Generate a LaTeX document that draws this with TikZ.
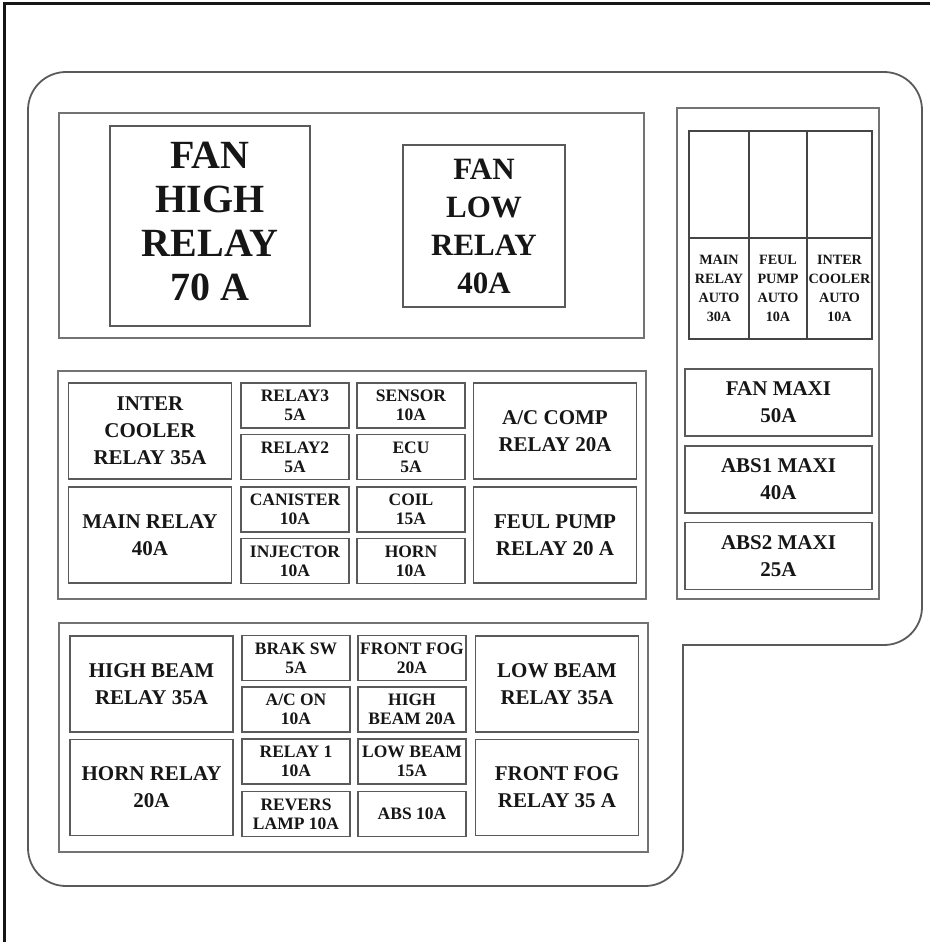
\documentclass[tikz,border=0pt]{standalone}
\usepackage{fontspec}
\setmainfont{Liberation Serif}
\definecolor{edge}{RGB}{90,90,90}
\definecolor{ink}{RGB}{22,22,22}

\begin{document}
\begin{tikzpicture}[
  x=1pt, y=-1pt,
  every node/.style={font=\bfseries, text=ink, inner sep=0pt, align=center},
  panel/.style={draw=edge!85, line width=1.4pt},
  housing/.style={draw=edge, line width=1.8pt},
  relaybox/.style={draw=edge, line width=1.4pt, minimum width=163pt,
               minimum height=96pt, font=\bfseries\fontsize{21}{27}\selectfont},
  fusebox/.style={draw=edge, line width=1.4pt, minimum width=108pt,
               minimum height=45pt, font=\bfseries\fontsize{17.5}{19}\selectfont},
  maxibox/.style={draw=edge, line width=1.4pt, minimum width=187pt,
               minimum height=67pt, font=\bfseries\fontsize{21}{27}\selectfont},
  autocell/.style={draw=ink!80, line width=1.3pt, minimum height=101pt,
               font=\bfseries\fontsize{14.2}{19}\selectfont},
  autotop/.style={draw=ink!80, line width=1.3pt, minimum height=107pt}
]
\useasboundingbox (0,0) rectangle (930,942);

% sheet edge
\draw[line width=3pt, ink] (4,942) -- (4,4) -- (930,4);

% box outline with notch
\draw[housing] (28,110) arc[start angle=180, end angle=270, radius=38]
  -- (884,72) arc[start angle=270, end angle=360, radius=38]
  -- (922,607) arc[start angle=0, end angle=90, radius=38]
  -- (683,645) -- (683,848) arc[start angle=0, end angle=90, radius=38]
  -- (66,886) arc[start angle=90, end angle=180, radius=38] -- cycle;

% fan relays
\draw[panel] (59,113) rectangle (644,338);
\node[draw=edge, line width=1.4pt, minimum width=200pt, minimum height=200pt,
  font=\bfseries\fontsize{40}{44}\selectfont] (fanhigh) at (210,226) {};
\node[font=\bfseries\fontsize{40}{44}\selectfont] (fanhightxt) at (210,221)
  {FAN\\HIGH\\RELAY\\70 A};
\node[draw=edge, line width=1.4pt, minimum width=162pt, minimum height=162pt,
  font=\bfseries\fontsize{31}{38}\selectfont] (fanlow) at (484,226)
  {FAN\\LOW\\RELAY\\40A};

% right side: auto fuses and maxi fuses
\draw[panel] (677,108) rectangle (879,599);
\node[autotop, minimum width=60pt] (a1t) at (719,184.5) {};
\node[autotop, minimum width=58pt] (a2t) at (778,184.5) {};
\node[autotop, minimum width=65pt] (a3t) at (839.5,184.5) {};
\node[autocell, minimum width=60pt] (a1) at (719,288.5) {MAIN\\RELAY\\AUTO\\30A};
\node[autocell, minimum width=58pt] (a2) at (778,288.5) {FEUL\\PUMP\\AUTO\\10A};
\node[autocell, minimum width=65pt] (a3) at (839.5,288.5) {INTER\\COOLER\\AUTO\\10A};

\node[maxibox] (fanmaxi) at (778.5,402.5) {FAN MAXI\\50A};
\node[maxibox] (abs1) at (778.5,479.5) {ABS1 MAXI\\40A};
\node[maxibox] (abs2) at (778.5,556) {ABS2 MAXI\\25A};

% middle block
\draw[panel] (58,371) rectangle (646,599);
\node[relaybox] (icr) at (150,431) {INTER\\COOLER\\RELAY 35A};
\node[relaybox] (mainr) at (150,535) {MAIN RELAY\\40A};
\node[relaybox] (acr) at (555,431) {A/C COMP\\RELAY 20A};
\node[relaybox] (fpr) at (555,535) {FEUL PUMP\\RELAY 20 A};

\node[fusebox] (relay3) at (295,405.5) {RELAY3\\5A};
\node[fusebox] (relay2) at (295,457) {RELAY2\\5A};
\node[fusebox] (canister) at (295,509.5) {CANISTER\\10A};
\node[fusebox] (injector) at (295,561) {INJECTOR\\10A};
\node[fusebox] (sensor) at (411,405.5) {SENSOR\\10A};
\node[fusebox] (ecu) at (411,457) {ECU\\5A};
\node[fusebox] (coil) at (411,509.5) {COIL\\15A};
\node[fusebox] (horn) at (411,561) {HORN\\10A};

% lower block
\draw[panel] (59,623) rectangle (648,852);
\node[relaybox] (hbr) at (151.5,684) {HIGH BEAM\\RELAY 35A};
\node[relaybox] (hornr) at (151.5,787.5) {HORN RELAY\\20A};
\node[relaybox] (lbr) at (557,684) {LOW BEAM\\RELAY 35A};
\node[relaybox] (ffr) at (557,787.5) {FRONT FOG\\RELAY 35 A};

\node[fusebox] (braksw) at (296,658) {BRAK SW\\5A};
\node[fusebox] (acon) at (296,709.5) {A/C ON\\10A};
\node[fusebox] (relay1) at (296,761.5) {RELAY 1\\10A};
\node[fusebox] (revers) at (296,814) {REVERS\\LAMP 10A};
\node[fusebox] (frontfog) at (412,658) {FRONT FOG\\20A};
\node[fusebox] (highbeam) at (412,709.5) {HIGH\\BEAM 20A};
\node[fusebox] (lowbeam) at (412,761.5) {LOW BEAM\\15A};
\node[fusebox] (abs) at (412,814) {ABS 10A};

\end{tikzpicture}
\end{document}
